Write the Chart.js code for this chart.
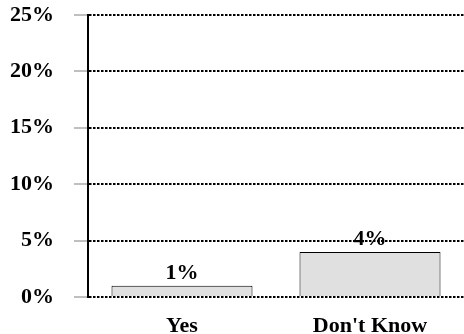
<!DOCTYPE html>
<html>
<head>
<meta charset="utf-8">
<script src="https://cdn.jsdelivr.net/npm/chart.js@4"></script>
<style>
html,body{margin:0;padding:0;background:#fff;}
#wrap{width:464px;height:334px;position:relative;}
</style>
</head>
<body>
<div id="wrap"><canvas id="c" width="464" height="334"></canvas></div>
<script>
const categories = ["Yes", "Don't Know"];
const values = [1, 4];
const yTicks = [0, 5, 10, 15, 20, 25];

const FONT = {family: "'Liberation Serif', 'Times New Roman', serif", size: 22, weight: 'bold'};

const dataLabels = {
  id: 'dataLabels',
  afterDatasetsDraw(chart) {
    const ctx = chart.ctx;
    const meta = chart.getDatasetMeta(0);
    ctx.save();
    ctx.font = `bold ${FONT.size}px ${FONT.family}`;
    ctx.fillStyle = '#000';
    ctx.textAlign = 'center';
    ctx.textBaseline = 'alphabetic';
    meta.data.forEach((bar, i) => {
      ctx.fillText(values[i] + '%', bar.x, bar.y - 7);
    });
    ctx.restore();
  }
};

new Chart(document.getElementById('c'), {
  type: 'bar',
  data: {
    labels: categories,
    datasets: [{
      data: values,
      backgroundColor: '#e0e0e0',
      borderColor: '#000',
      borderWidth: 1,
      categoryPercentage: 1,
      barPercentage: 0.75
    }]
  },
  options: {
    responsive: false,
    animation: false,
    layout: {padding: {top: 15, right: 0, left: 0, bottom: 0}},
    plugins: {legend: {display: false}, tooltip: {enabled: false}},
    scales: {
      x: {
        grid: {display: false, drawTicks: false},
        border: {display: false},
        ticks: {color: '#000', font: FONT, padding: 16, maxRotation: 0},
        afterFit(s) { s.height = 37; s.paddingLeft = 0; s.paddingRight = 0; }
      },
      y: {
        min: 0, max: 25,
        afterBuildTicks(s) { s.ticks = yTicks.map(v => ({value: v})); },
        ticks: {color: '#000', font: FONT, padding: 20, callback: v => v + '%'},
        grid: {
          color: '#000', lineWidth: 2,
          tickColor: '#808080', tickLength: 14, tickWidth: 1, tickBorderDash: []
        },
        border: {display: true, color: '#000', width: 2, dash: [2.5, 1.5]},
        afterFit(s) { s.width = 88; s.paddingTop = 0; s.paddingBottom = 0; }
      }
    }
  },
  plugins: [dataLabels]
});
</script>
</body>
</html>
